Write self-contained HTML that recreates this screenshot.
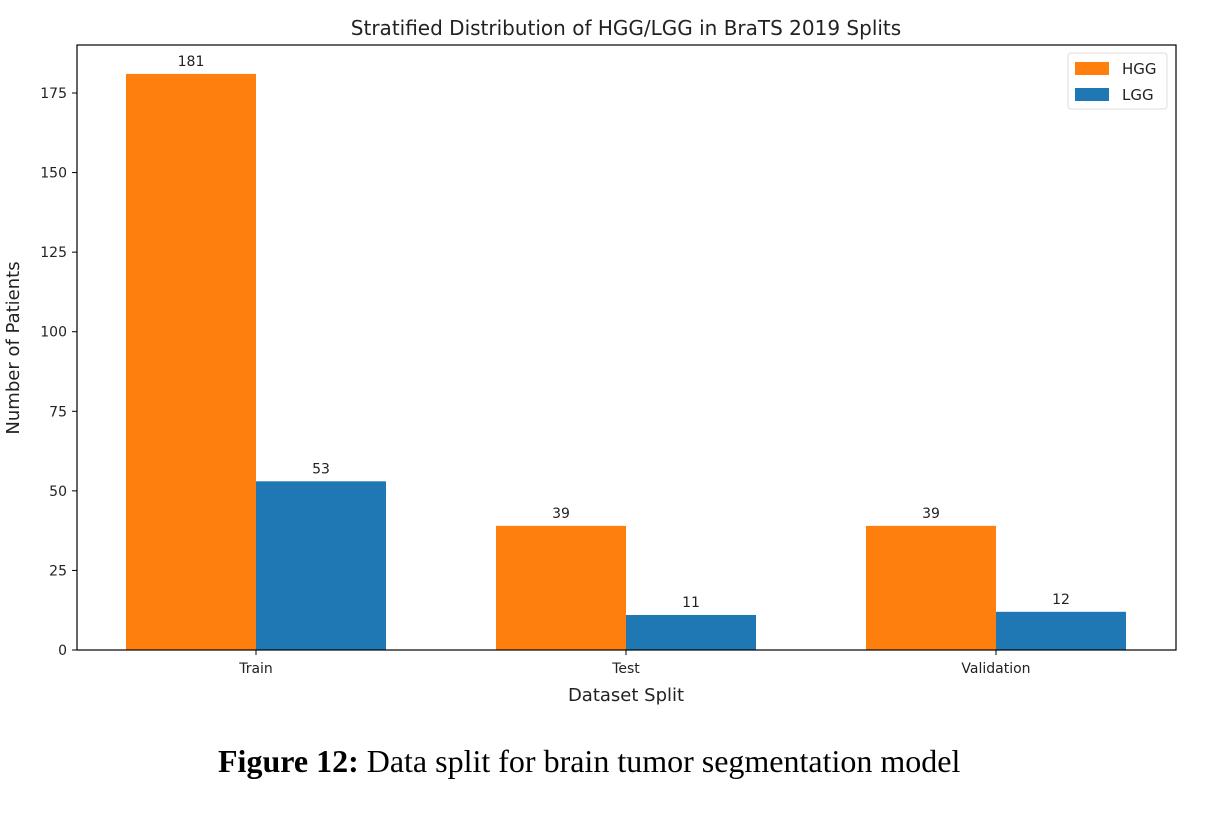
<!DOCTYPE html>
<html><head><meta charset="utf-8"><style>
body{margin:0;background:#fff;width:1215px;height:837px;overflow:hidden}
svg text{font-family:"DejaVu Sans","Liberation Sans",sans-serif}
#cap{position:absolute;left:218px;top:743px;white-space:nowrap;font-family:"Liberation Serif",serif;font-size:32px;color:#000}
</style></head><body>
<svg id="chart" width="1215" height="837" style="position:absolute;left:0;top:0"></svg>
<div id="cap"><b>Figure 12:</b> Data split for brain tumor segmentation model</div>
<script>
const categories=["Train","Test","Validation"];
const hggValues=[181,39,39];
const lggValues=[53,11,12];
const yTicks=[0,25,50,75,100,125,150,175];
const seriesNames=["HGG","LGG"];
const colors=["#ff7f0e","#1f77b4"];
const L=77,R=1176,T=45,B=650;
const y=v=>B-v*(B-93)/175;
const step=370,c0=256,bw=130;
const x=i=>c0+i*step;
const svg=document.getElementById('chart');
const NS="http://www.w3.org/2000/svg";
function mk(t,a,txt){const e=document.createElementNS(NS,t);for(const k in a)e.setAttribute(k,a[k]);if(txt!==undefined)e.textContent=txt;svg.appendChild(e);return e;}
[hggValues,lggValues].forEach((vals,s)=>{vals.forEach((v,i)=>{
 const x0=x(i)+(s===0?-bw:0);
 const r=mk('rect',{x:x0,y:y(v),width:bw,height:B-y(v),fill:colors[s]});
 
 
 const t=mk('text',{x:x0+bw/2,y:y(v)-8,'text-anchor':'middle','font-size':14,fill:'#222'},v);
 
 
});});
const fr=mk('rect',{x:L,y:T,width:R-L,height:B-T,fill:'none',stroke:'#000','stroke-width':1.2});


yTicks.forEach(v=>{
 mk('line',{x1:L-5,x2:L,y1:y(v),y2:y(v),stroke:'#000'});
 const t=mk('text',{x:L-10,y:y(v)+5,'text-anchor':'end','font-size':14,fill:'#222'},v);
 
 
});
categories.forEach((c,i)=>{
 mk('line',{x1:x(i),x2:x(i),y1:B,y2:B+5,stroke:'#000'});
 const t=mk('text',{x:x(i),y:B+23,'text-anchor':'middle','font-size':14,fill:'#222'},c);
 
 
});
let e=mk('text',{x:626,y:35,'text-anchor':'middle','font-size':20,fill:'#222'},'Stratified Distribution of HGG/LGG in BraTS 2019 Splits');

e=mk('text',{x:626,y:701,'text-anchor':'middle','font-size':18,fill:'#222'},'Dataset Split');

e=mk('text',{x:0,y:0,'text-anchor':'middle','font-size':18,fill:'#222',transform:'translate(19,348) rotate(-90)'},'Number of Patients');

e=mk('rect',{x:1068,y:53,width:99,height:56,rx:3,fill:'#fff',stroke:'#ddd'});

seriesNames.forEach((n,s)=>{
 const sw=mk('rect',{x:1075,y:62+s*26,width:34,height:13,fill:colors[s]});
 
 const t=mk('text',{x:1122,y:74+s*26,'font-size':15,fill:'#222'},n);
 
});
</script>
</body></html>
